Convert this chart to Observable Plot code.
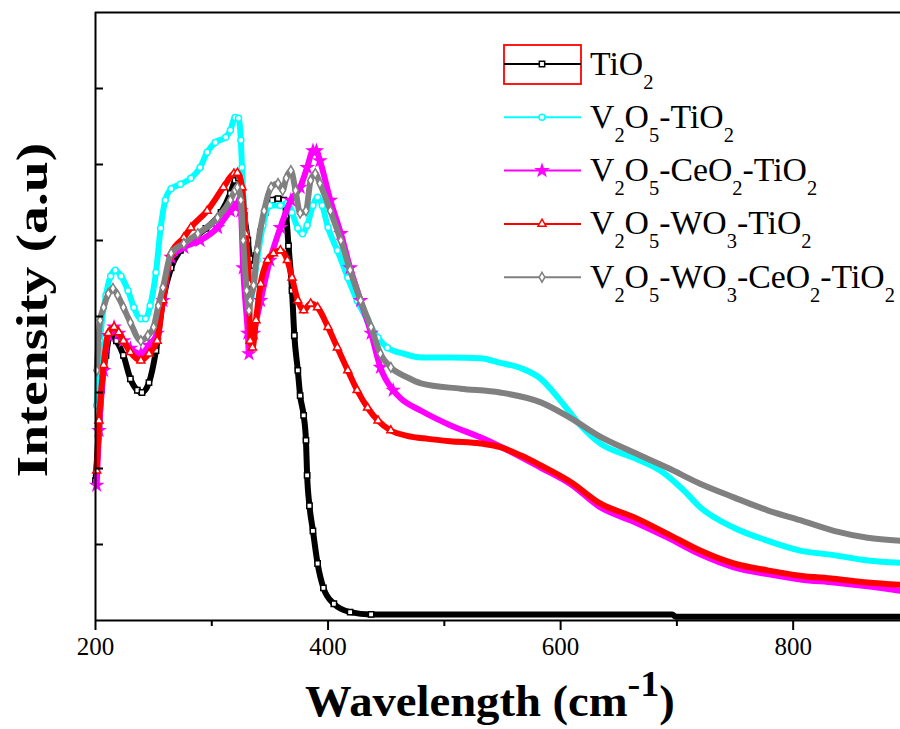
<!DOCTYPE html>
<html><head><meta charset="utf-8">
<script src="https://cdn.jsdelivr.net/npm/d3@7"></script>
<script src="https://cdn.jsdelivr.net/npm/@observablehq/plot@0.6"></script>
<style>body{margin:0;background:#fff}#chart{width:900px;height:729px}</style>
</head><body><div id="chart"></div>
<script>
const seriesNames = ["TiO2", "V2O5-TiO2", "V2O5-CeO2-TiO2", "V2O5-WO3-TiO2", "V2O5-WO3-CeO2-TiO2"];
const seriesColors = ["#000000", "#00ffff", "#ff00ff", "#ff0000", "#808080"];
const seriesSymbols = ["square", "circle", "star", "triangle", "diamond"];

// [wavelength, intensity (a.u.)]
const tio2 = [[200,1.84],[203,2.50],[205,3.03],[209,3.49],[213,3.78],[218,3.68],[224,3.49],[230,3.18],[236,3.03],[240,3.00],[246,3.13],[252,3.55],[258,4.21],[265,4.64],[273,4.87],[282,5.00],[295,5.16],[308,5.37],[316,5.62],[320,5.79],[323,5.82],[326,5.59],[328,5.33],[331,5.00],[333,4.76],[336,4.67],[338,4.80],[342,5.11],[346,5.37],[352,5.53],[357,5.55],[362,5.53],[364,5.33],[366,4.93],[369,4.34],[371,3.75],[374,3.29],[376,2.96],[379,2.70],[381,2.37],[382,1.91],[384,1.51],[387,1.18],[391,0.75],[396,0.43],[405,0.22],[419,0.11],[437,0.08],[548,0.08],[696,0.08],[699,0.05],[892,0.05]];
const v2o5Tio2 = [[201,2.83],[204,3.68],[209,4.28],[213,4.53],[217,4.61],[222,4.53],[228,4.34],[233,4.12],[239,3.97],[243,3.97],[247,4.14],[252,4.58],[256,5.16],[260,5.53],[265,5.68],[273,5.74],[282,5.82],[290,5.96],[296,6.16],[303,6.29],[312,6.36],[316,6.45],[320,6.62],[323,6.61],[325,6.32],[326,5.96],[329,5.09],[332,4.34],[333,4.21],[336,4.41],[339,4.74],[344,5.20],[350,5.46],[359,5.46],[365,5.49],[369,5.37],[374,5.16],[378,5.09],[382,5.20],[387,5.46],[391,5.57],[395,5.46],[400,5.17],[408,4.87],[417,4.51],[425,4.21],[434,3.95],[443,3.72],[451,3.59],[465,3.51],[480,3.46],[505,3.46],[531,3.45],[548,3.39],[566,3.32],[583,3.18],[600,2.89],[617,2.57],[634,2.33],[663,2.14],[686,1.97],[706,1.71],[720,1.49],[749,1.22],[778,1.05],[806,0.92],[835,0.86],[864,0.79],[892,0.76]];
const v2o5Ceo2Tio2 = [[201,1.78],[203,2.50],[207,3.29],[211,3.75],[216,3.86],[220,3.78],[224,3.68],[230,3.58],[239,3.51],[246,3.62],[253,3.78],[258,4.21],[265,4.78],[276,4.91],[290,5.00],[305,5.17],[316,5.39],[322,5.49],[325,5.39],[327,4.64],[331,3.78],[332,3.51],[336,3.78],[342,4.21],[350,4.74],[359,5.17],[368,5.53],[376,5.70],[382,5.96],[387,6.18],[390,6.18],[393,6.05],[402,5.53],[411,5.09],[419,4.64],[428,4.21],[437,3.78],[445,3.33],[456,3.03],[462,2.93],[480,2.76],[505,2.57],[531,2.41],[548,2.29],[583,2.01],[609,1.79],[634,1.49],[663,1.30],[692,1.09],[720,0.87],[749,0.70],[778,0.61],[806,0.54],[835,0.50],[864,0.45],[892,0.39]];
const v2o5Wo3Tio2 = [[201,1.97],[203,2.63],[207,3.36],[211,3.78],[216,3.86],[220,3.79],[224,3.68],[230,3.53],[239,3.42],[246,3.51],[253,3.68],[258,4.21],[265,4.83],[276,5.04],[282,5.17],[296,5.39],[310,5.70],[319,5.88],[322,5.89],[326,5.70],[329,5.09],[332,4.43],[333,3.68],[335,3.59],[338,3.95],[342,4.43],[348,4.74],[353,4.83],[359,4.87],[365,4.74],[369,4.51],[374,4.21],[379,4.08],[385,4.17],[391,4.12],[400,3.86],[408,3.59],[417,3.29],[425,3.03],[434,2.80],[443,2.63],[454,2.50],[468,2.43],[486,2.39],[505,2.36],[531,2.33],[548,2.28],[566,2.17],[583,2.04],[609,1.82],[634,1.54],[663,1.36],[692,1.14],[720,0.92],[749,0.75],[778,0.66],[806,0.59],[835,0.55],[864,0.50],[892,0.47]];
const v2o5Wo3Ceo2Tio2 = [[201,3.29],[204,3.95],[207,4.12],[211,4.30],[215,4.37],[219,4.28],[224,4.12],[230,3.92],[239,3.68],[245,3.75],[250,3.86],[254,4.14],[258,4.38],[265,4.83],[276,4.96],[288,5.09],[305,5.30],[316,5.53],[320,5.66],[322,5.70],[325,5.53],[327,5.00],[330,4.34],[332,4.08],[333,4.21],[336,4.41],[339,4.87],[345,5.39],[351,5.70],[357,5.75],[361,5.66],[364,5.82],[368,5.92],[372,5.66],[376,5.36],[381,5.39],[385,5.79],[389,5.88],[393,5.75],[402,5.39],[411,5.00],[419,4.61],[428,4.21],[437,3.86],[445,3.51],[454,3.33],[468,3.20],[480,3.12],[514,3.05],[548,3.00],[583,2.87],[609,2.66],[634,2.42],[663,2.21],[692,2.01],[720,1.80],[749,1.62],[778,1.45],[806,1.32],[835,1.18],[864,1.09],[892,1.05]];

const seriesData = [tio2, v2o5Tio2, v2o5Ceo2Tio2, v2o5Wo3Tio2, v2o5Wo3Ceo2Tio2];
const xTicks = [200, 400, 600, 800];
const xMinorTicks = [300, 500, 700];
const yTicks = [1, 2, 3, 4, 5, 6, 7];
const xDomain = [200, 892.3];
const yDomain = [0, 8];
const markerLimit = 460; // markers drawn individually up to here

const FONT = "'Liberation Serif','Times New Roman',serif";

const tables = seriesData.map((arr, i) => arr.map(([w, v]) => ({series: seriesNames[i], w, v})));

const seriesMarks = [];
tables.forEach((t, i) => {
  seriesMarks.push(Plot.line(t, {x: "w", y: "v", stroke: seriesColors[i], strokeWidth: 6, curve: "monotone-x"}));
  seriesMarks.push(Plot.dot(t.filter(d => d.w <= markerLimit), {
    x: "w", y: "v", symbol: () => seriesSymbols[i], r: i === 2 ? 3.5 : 3,
    stroke: seriesColors[i], fill: i === 2 ? seriesColors[i] : "#fff", strokeWidth: 1.5
  }));
});

const plot = Plot.plot({
  width: 900, height: 729,
  marginTop: 12, marginBottom: 109, marginLeft: 95, marginRight: 0,
  x: {domain: xDomain, label: null},
  y: {domain: yDomain, axis: null, label: null},
  style: {fontFamily: FONT, background: "#fff", color: "#000"},
  marks: [
    ...seriesMarks,
    Plot.axisX({ticks: xTicks, tickSize: 10, tickPadding: 7, fontSize: 25, label: null, strokeWidth: 2, tickFormat: d => String(d)}),
    Plot.axisX({ticks: xMinorTicks, tickSize: 6, label: null, strokeWidth: 2, tickFormat: () => ""}),
    Plot.tickY(yTicks, {y: d => d, insetRight: 797, strokeWidth: 2}),
    Plot.ruleX([xDomain[0]], {strokeWidth: 2}),
    Plot.ruleY([yDomain[0]], {strokeWidth: 2}),
    Plot.ruleY([yDomain[1]], {strokeWidth: 2})
  ]
});
document.getElementById("chart").appendChild(plot);

const svg = d3.select(plot);

// X axis title
const xl = svg.append("text").attr("font-family", FONT).attr("font-weight", "bold")
  .attr("font-size", 44).attr("fill", "#000").attr("text-anchor", "middle");
xl.append("tspan").text("Wavelength (cm");
xl.append("tspan").attr("dy", -20).attr("font-size", 36).text("-1");
xl.append("tspan").attr("dy", 20).text(")");
{
  const w = xl.node().getBBox().width;
  xl.attr("transform", `translate(490,716) scale(${370 / w},1)`);
}

// Y axis title
const yl = svg.append("text").attr("font-family", FONT).attr("font-weight", "bold")
  .attr("font-size", 44).attr("fill", "#000").attr("text-anchor", "middle").text("Intensity (a.u)");
{
  const w = yl.node().getBBox().width;
  yl.attr("transform", `translate(47,310) rotate(-90) scale(${335 / w},1)`);
}

// Legend
const lg = svg.append("g").attr("text-anchor", "start");
const symbolTypes = {square: d3.symbolSquare, circle: d3.symbolCircle, star: d3.symbolStar, triangle: d3.symbolTriangle, diamond: d3.symbolDiamond};
lg.append("rect").attr("x", 504).attr("y", 45).attr("width", 77).attr("height", 39)
  .attr("fill", "none").attr("stroke", "#ff0000").attr("stroke-width", 1.8);
const textNodes = [];
seriesNames.forEach((name, i) => {
  const ly = 64 + i * 53.3;
  lg.append("line").attr("x1", 504).attr("x2", 581).attr("y1", ly).attr("y2", ly)
    .attr("stroke", seriesColors[i]).attr("stroke-width", 2);
  const r = i === 2 ? 3.5 : 3;
  lg.append("path").attr("transform", `translate(542,${ly})`)
    .attr("d", d3.symbol(symbolTypes[seriesSymbols[i]], r * r * Math.PI)())
    .attr("fill", i === 2 ? seriesColors[i] : "#fff").attr("stroke", seriesColors[i]).attr("stroke-width", 1.5);
  const t = lg.append("text").attr("font-family", FONT).attr("font-size", 33).attr("fill", "#000").attr("text-anchor", "start");
  let pending = 0;
  name.split(/(\d)/).filter(s => s.length).forEach(part => {
    if (/^\d$/.test(part)) {
      t.append("tspan").attr("font-size", 20).attr("dy", 14 + pending).text(part);
      pending = -14;
    } else {
      t.append("tspan").attr("dy", pending).text(part);
      pending = 0;
    }
  });
  textNodes.push({t, baseline: ly + 10.5});
});
{
  const widths = textNodes.map(d => d.t.node().getBBox().width);
  const sx = 305 / d3.max(widths);
  textNodes.forEach(d => d.t.attr("transform", `translate(590,${d.baseline}) scale(${sx},1)`));
}
</script>
</body></html>
